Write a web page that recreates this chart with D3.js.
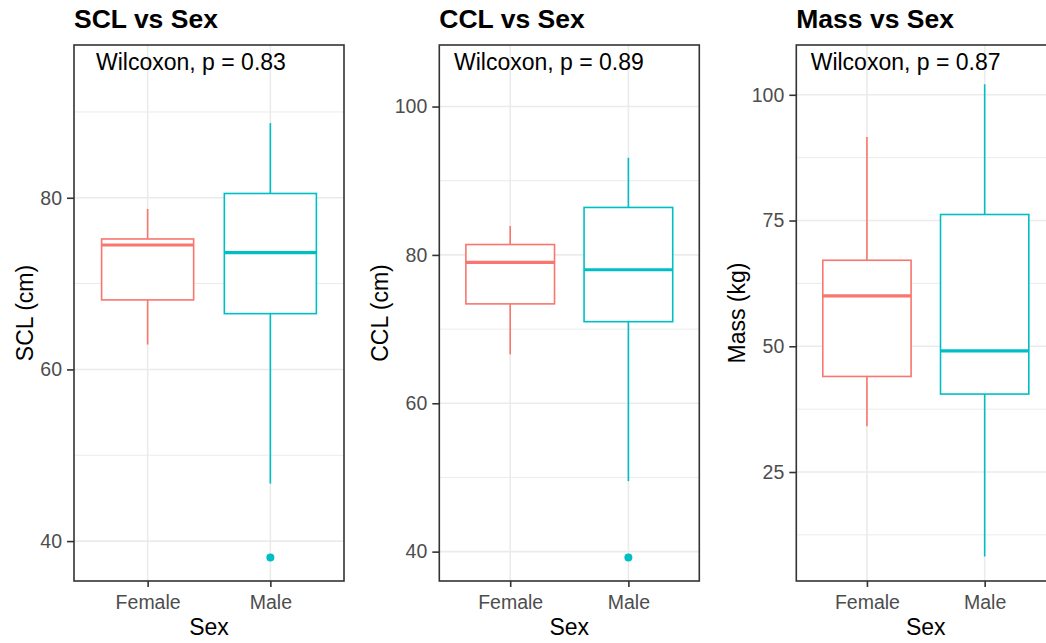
<!DOCTYPE html>
<html>
<head>
<meta charset="utf-8">
<script src="https://cdn.jsdelivr.net/npm/d3@7"></script>
<style>
    body { margin: 0; background: #ffffff; }
    svg { display: block; font-family: "Liberation Sans", Arial, sans-serif; }
</style>
</head>
<body>
<div id="chart"></div>
<script>
//groups on the x axis
var sexes = ["Female", "Male"];
var sexColors = ["#F8766D", "#00BFC4"];

//box stats per group: [lower whisker, q1, median, q3, upper whisker]
var sclStats = [[62.9, 68.1, 74.5, 75.2, 78.7], [46.7, 66.5, 73.6, 80.5, 88.7]];
var cclStats = [[66.6, 73.4, 79.0, 81.4, 83.9], [49.5, 71.0, 78.0, 86.4, 93.1]];
var massStats = [[34.1, 44.0, 60.0, 67.1, 91.6], [8.2, 40.5, 49.1, 76.2, 102.1]];

//outliers per group
var sclOutliers = [[], [38.1]];
var cclOutliers = [[], [39.2]];
var massOutliers = [[], []];

//wilcoxon p values
var pValues = ["0.83", "0.89", "0.87"];

//titles and axis labels
var titles = ["SCL vs Sex", "CCL vs Sex", "Mass vs Sex"];
var yLabels = ["SCL (cm)", "CCL (cm)", "Mass (kg)"];
var xLabel = "Sex";

//y ticks (major) and minor grid values
var sclTicks = [40, 60, 80];
var cclTicks = [40, 60, 80, 100];
var massTicks = [25, 50, 75, 100];
var sclMinor = [50, 70, 90];
var cclMinor = [50, 70, 90];
var massMinor = [12.5, 37.5, 62.5, 87.5];

//y domains
var sclDomain = [35.35, 97.8];
var cclDomain = [36.04, 108.3];
var massDomain = [3.33, 109.9];

//svg dimensions
var svgWidth = 1046;
var svgHeight = 643;

var panelTop = 45;
var panelBottom = 581;

//panel layout
var panels = [
    { left: 74, right: 344, labelOffset: 22, stats: sclStats, outliers: sclOutliers, ticks: sclTicks, minor: sclMinor, domain: sclDomain },
    { left: 439.3, right: 699.3, labelOffset: 14.7, stats: cclStats, outliers: cclOutliers, ticks: cclTicks, minor: cclMinor, domain: cclDomain },
    { left: 796.3, right: 1055.3, labelOffset: 14.4, stats: massStats, outliers: massOutliers, ticks: massTicks, minor: massMinor, domain: massDomain }
];

var svg = d3.select("#chart").append("svg")
    .attr("width", svgWidth)
    .attr("height", svgHeight);

svg.append("rect")
    .attr("width", svgWidth)
    .attr("height", svgHeight)
    .attr("fill", "#ffffff");

function drawPanel(p, i) {
    var width = p.right - p.left;
    var height = panelBottom - panelTop;

    var g = svg.append("g")
        .attr("transform", `translate(${p.left}, ${panelTop})`);

    var xScale = d3.scalePoint()
        .domain(sexes)
        .range([0, width])
        .padding(0.6);

    var yScale = d3.scaleLinear()
        .domain(p.domain)
        .range([height, 0]);

    //minor grid
    g.selectAll(".minor")
        .data(p.minor)
        .enter()
        .append("line")
        .attr("x1", 0)
        .attr("x2", width)
        .attr("y1", d => yScale(d))
        .attr("y2", d => yScale(d))
        .attr("stroke", "#EBEBEB")
        .attr("stroke-width", 1);

    //major grid
    g.selectAll(".major")
        .data(p.ticks)
        .enter()
        .append("line")
        .attr("x1", 0)
        .attr("x2", width)
        .attr("y1", d => yScale(d))
        .attr("y2", d => yScale(d))
        .attr("stroke", "#EBEBEB")
        .attr("stroke-width", 1.6);

    g.selectAll(".vgrid")
        .data(sexes)
        .enter()
        .append("line")
        .attr("x1", d => xScale(d))
        .attr("x2", d => xScale(d))
        .attr("y1", 0)
        .attr("y2", height)
        .attr("stroke", "#EBEBEB")
        .attr("stroke-width", 1.6);

    var boxWidth = xScale.step() * 0.75;

    var boxes = g.selectAll(".box")
        .data(p.stats)
        .enter()
        .append("g")
        .attr("transform", (d, j) => `translate(${xScale(sexes[j])}, 0)`);

    //whiskers
    boxes.append("line")
        .attr("y1", d => yScale(d[3]))
        .attr("y2", d => yScale(d[4]))
        .attr("stroke", (d, j) => sexColors[j])
        .attr("stroke-width", 1.6);

    boxes.append("line")
        .attr("y1", d => yScale(d[1]))
        .attr("y2", d => yScale(d[0]))
        .attr("stroke", (d, j) => sexColors[j])
        .attr("stroke-width", 1.6);

    //box
    boxes.append("rect")
        .attr("x", -boxWidth / 2)
        .attr("y", d => yScale(d[3]))
        .attr("width", boxWidth)
        .attr("height", d => yScale(d[1]) - yScale(d[3]))
        .attr("fill", "#ffffff")
        .attr("stroke", (d, j) => sexColors[j])
        .attr("stroke-width", 1.6);

    //median
    boxes.append("line")
        .attr("x1", -boxWidth / 2)
        .attr("x2", boxWidth / 2)
        .attr("y1", d => yScale(d[2]))
        .attr("y2", d => yScale(d[2]))
        .attr("stroke", (d, j) => sexColors[j])
        .attr("stroke-width", 3.2);

    //outliers
    p.outliers.forEach(function (vals, j) {
        g.selectAll(".out" + j)
            .data(vals)
            .enter()
            .append("circle")
            .attr("cx", xScale(sexes[j]))
            .attr("cy", d => yScale(d))
            .attr("r", 4)
            .attr("fill", sexColors[j]);
    });

    //panel border
    g.append("rect")
        .attr("width", width)
        .attr("height", height)
        .attr("fill", "none")
        .attr("stroke", "#333333")
        .attr("stroke-width", 1.6);

    //axes
    var leftAxis = d3.axisLeft(yScale)
        .tickValues(p.ticks)
        .tickSize(7)
        .tickPadding(5);

    var bottomAxis = d3.axisBottom(xScale)
        .tickSize(6)
        .tickPadding(8);

    var yAxis = g.append("g").call(leftAxis);
    var xAxis = g.append("g")
        .attr("transform", `translate(0, ${height})`)
        .call(bottomAxis);

    [yAxis, xAxis].forEach(function (ax) {
        ax.select(".domain").remove();
        ax.selectAll("line")
            .attr("stroke", "#333333")
            .attr("stroke-width", 1.6);
        ax.selectAll("text")
            .attr("fill", "#4D4D4D")
            .attr("font-family", "Liberation Sans, Arial, sans-serif")
            .attr("font-size", "19.5px");
    });

    //y axis title
    var box = yAxis.node().getBBox();
    g.append("text")
        .attr("transform", `translate(${box.x - 7}, ${height / 2}) rotate(-90)`)
        .attr("text-anchor", "middle")
        .attr("font-size", "23px")
        .attr("fill", "#000000")
        .text(yLabels[i]);

    //x axis title
    g.append("text")
        .attr("x", width / 2)
        .attr("y", 635 - panelTop)
        .attr("text-anchor", "middle")
        .attr("font-size", "23px")
        .attr("fill", "#000000")
        .text(xLabel);

    //panel title
    g.append("text")
        .attr("x", 0)
        .attr("y", 28 - panelTop)
        .attr("font-size", "26.5px")
        .attr("font-weight", "bold")
        .attr("fill", "#000000")
        .text(titles[i]);

    //wilcoxon label
    g.append("text")
        .attr("x", p.labelOffset)
        .attr("y", 70 - panelTop)
        .attr("font-size", "23px")
        .attr("fill", "#000000")
        .text(`Wilcoxon, p = ${pValues[i]}`);
}

panels.forEach(drawPanel);
</script>
</body>
</html>
